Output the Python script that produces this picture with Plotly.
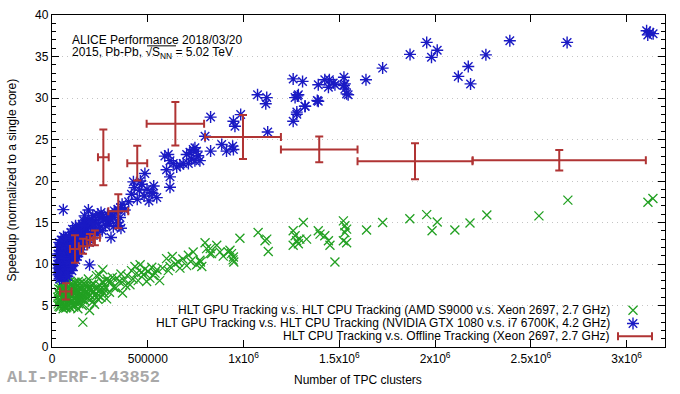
import plotly.graph_objects as go

# ---------------- data ----------------
# HLT CPU Tracking vs Offline Tracking (Xeon 2697) : binned, with x/y errors
offline_x = [72000, 120000, 162000, 198000, 224000, 268000, 346000, 445000, 644000, 997000, 1395000, 1895000, 2648000]
offline_xerr = [30000, 26000, 22000, 17000, 26000, 28000, 52000, 52000, 150000, 198000, 200000, 300000, 452000]
offline_y = [6.7, 11.8, 12.15, 12.9, 13.15, 22.85, 16.35, 22.15, 26.9, 25.3, 23.8, 22.37, 22.5]
offline_yerr = [0.98, 1.65, 0.9, 0.7, 0.9, 3.35, 2.05, 2.1, 2.62, 2.66, 1.55, 2.17, 1.22]

# AMD S9000 vs Xeon 2697 (x in thousands of clusters, speedup)
amd_points = [
    (30, 6.0), (32, 5.2), (35, 7.0), (38, 6.4), (40, 5.6), (42, 4.8), (45, 6.9), (48, 6.0), (50, 5.3),
    (52, 7.4), (55, 6.5), (57, 5.8), (60, 4.9), (62, 7.1), (65, 6.2), (68, 5.5), (70, 6.8), (72, 4.7),
    (75, 7.5), (78, 6.0), (80, 5.2), (83, 6.6), (86, 7.2), (88, 5.7), (90, 4.9), (93, 6.3), (96, 7.6),
    (99, 5.5), (102, 6.9), (105, 6.1), (108, 5.0), (111, 7.3), (114, 6.5), (117, 5.8), (120, 7.8),
    (123, 6.8), (126, 5.3), (129, 6.1), (132, 7.4), (135, 4.6), (138, 5.9), (141, 6.7), (144, 7.6),
    (147, 5.5), (150, 6.4), (155, 7.0), (158, 5.0), (161, 3.0), (163, 6.1), (167, 7.7), (170, 5.6),
    (175, 6.6), (180, 7.3), (185, 5.9), (190, 8.2), (194, 6.9), (196, 4.4), (200, 6.2), (205, 7.5),
    (210, 5.4), (215, 6.6), (222, 5.15), (228, 7.0), (232, 8.6), (239, 5.75), (245, 6.8), (247, 8.7),
    (250, 7.4), (256, 6.0), (262, 7.8), (265, 9.3), (270, 6.5), (278, 7.2), (285, 5.8), (292, 7.9),
    (33, 6.6), (36, 4.9), (41, 7.3), (44, 6.2), (47, 5.1), (51, 6.7), (54, 7.8), (58, 4.6), (61, 6.0),
    (64, 7.6), (67, 5.0), (71, 5.9), (74, 6.5), (77, 4.8), (81, 7.8), (84, 5.6), (87, 6.9), (91, 5.9),
    (94, 7.9), (97, 4.7), (100, 6.4), (104, 7.3), (107, 5.6), (110, 6.7), (113, 4.8), (116, 7.0),
    (119, 6.0), (122, 5.0), (125, 7.6), (128, 6.6), (131, 5.6), (134, 6.9), (137, 7.9), (140, 5.2),
    (143, 6.3), (146, 7.0), (149, 5.8), (152, 6.9), (156, 7.8), (160, 5.7), (165, 6.8), (172, 7.0),
    (178, 6.0), (183, 7.7), (188, 6.5), (198, 7.2), (203, 5.8), (208, 6.9), (218, 7.6), (225, 6.2),
    (235, 7.2), (242, 6.2), (255, 7.0), (268, 7.8), (275, 6.9), (288, 8.2),
    (300, 6.6), (308, 7.9), (315, 8.4), (322, 7.2), (333, 7.1), (340, 8.3), (351, 7.9), (360, 8.8),
    (368, 6.5), (375, 8.0), (385, 7.4), (392, 8.6), (407, 7.5), (415, 9.2), (423, 8.2), (433, 9.7),
    (442, 8.9), (450, 8.0), (460, 9.9), (468, 9.0), (477, 8.7), (486, 9.4), (494, 7.9), (502, 9.1),
    (511, 8.3), (521, 9.6), (529, 8.6), (538, 8.9), (548, 9.3), (562, 8.0), (577, 9.5),
    (598, 10.65), (607, 9.2), (616, 9.7), (628, 10.9), (643, 10.0), (659, 10.25), (668, 9.5),
    (683, 10.6), (703, 9.8), (712, 11.05), (724, 10.3), (737, 11.45), (755, 9.9), (772, 10.45),
    (775, 10.25), (782, 9.7), (799, 12.55), (807, 11.85), (824, 11.25), (826, 11.85), (833, 11.25),
    (860, 12.25), (877, 11.45), (894, 10.95), (920, 11.45), (929, 11.65), (937, 11.25), (945, 10.5),
    (947, 10.85), (949, 10.25), (981, 13.1), (1076, 13.8), (1112, 12.8), (1121, 13.0), (1129, 11.5),
    (1259, 14.0), (1269, 13.4), (1277, 12.8), (1259, 12.25), (1286, 12.45), (1294, 13.0), (1312, 15.0),
    (1329, 13.0), (1390, 14.0), (1399, 13.6), (1424, 13.4), (1443, 12.8), (1451, 12.25), (1477, 10.25),
    (1521, 15.2), (1529, 14.6), (1538, 14.2), (1521, 12.8), (1538, 12.55), (1529, 13.8), (1642, 14.1),
    (1726, 15.0), (1868, 15.45), (1956, 15.95), (2011, 15.05), (1984, 14.0), (2103, 14.1),
    (2182, 14.95), (2270, 15.9), (2542, 15.8), (2693, 17.7), (3111, 17.45), (3137, 17.9),
]

# NVIDIA GTX 1080 vs i7 6700K (x in thousands of clusters, speedup)
nvidia_points = [
    (35, 9.0), (37, 10.4), (39, 11.6), (41, 8.5), (43, 9.7), (45, 12.4), (47, 10.9), (49, 8.3),
    (51, 9.9), (53, 11.3), (55, 12.9), (57, 9.2), (59, 10.5), (61, 8.8), (63, 11.8), (65, 9.6),
    (68, 13.2), (68, 10.9), (70, 12.3), (72, 8.6), (74, 10.1), (76, 11.4), (78, 9.3), (80, 12.6),
    (82, 10.6), (84, 8.9), (86, 11.9), (88, 10.0), (90, 13.0), (92, 11.1), (95, 9.5), (97, 12.3),
    (100, 10.6), (103, 13.5), (105, 11.6), (108, 9.8), (110, 12.8), (113, 11.0), (116, 13.8),
    (120, 12.0), (124, 10.5), (127, 14.1), (130, 12.6), (134, 11.3), (138, 13.4), (142, 14.6),
    (146, 12.2), (150, 13.9), (155, 11.7), (158, 14.8), (162, 13.0), (166, 15.2), (170, 13.6),
    (175, 14.3), (180, 12.8), (185, 15.0), (190, 13.8), (196, 9.9), (200, 14.6), (206, 15.4),
    (213, 15.85), (220, 14.2), (228, 15.0), (235, 13.6), (242, 14.8), (250, 15.6), (256, 16.2),
    (262, 14.0), (270, 15.3), (280, 14.6), (290, 16.0), (298, 14.9), (308, 13.2), (316, 15.8),
    (325, 16.4), (333, 16.2), (342, 15.0), (350, 14.6), (358, 16.8), (366, 17.2), (380, 16.5),
    (38, 8.9), (44, 10.8), (50, 11.7), (56, 9.8), (62, 12.6), (66, 8.4), (73, 11.0), (79, 10.3),
    (85, 12.1), (91, 9.3), (98, 11.5), (106, 12.9), (112, 10.4), (118, 11.9), (125, 13.2),
    (132, 10.9), (140, 12.5), (148, 13.1), (59, 16.55),
    (33, 9.5), (34, 10.8), (36, 12.0), (40, 9.3), (42, 11.0), (46, 8.8), (48, 12.9), (52, 10.3),
    (54, 8.6), (58, 11.6), (60, 13.3), (64, 10.2), (69, 9.2), (71, 11.7), (75, 8.9), (77, 12.8),
    (81, 9.8), (83, 11.3), (87, 13.3), (89, 10.8), (93, 12.6), (96, 10.2), (99, 13.8), (102, 11.2),
    (104, 9.2), (107, 14.2), (109, 11.8), (114, 12.5), (117, 10.8), (121, 13.4), (123, 14.6),
    (128, 11.9), (136, 12.2), (144, 13.6), (152, 12.5), (160, 14.2), (168, 12.4), (178, 13.9),
    (188, 14.5), (195, 12.6), (203, 13.5), (210, 15.0), (225, 13.9), (245, 14.2), (265, 15.7),
    (285, 15.1), (305, 15.3),
    (31, 10.0), (32, 11.2), (34, 8.7), (36, 9.8), (38, 12.6), (39, 8.2), (41, 10.3), (43, 12.1),
    (44, 9.1), (46, 11.5), (48, 9.6), (50, 12.3), (52, 8.9), (53, 10.9), (55, 10.0), (57, 12.2),
    (59, 8.4), (60, 11.2), (62, 9.9), (64, 12.9), (66, 11.4), (67, 10.0), (69, 12.8), (70, 8.9),
    (72, 10.7), (74, 12.7), (76, 9.7), (78, 11.9), (80, 10.1), (81, 8.5), (83, 12.3), (85, 9.4),
    (87, 10.5), (89, 12.0), (91, 10.3), (93, 11.7), (95, 13.1), (97, 10.9), (100, 12.2), (102, 9.7),
    (105, 12.4), (108, 10.9), (111, 13.3), (115, 11.5), (119, 12.6), (122, 11.0), (126, 12.3),
    (131, 13.8), (135, 12.9), (139, 11.8), (143, 13.0), (147, 14.2), (153, 13.4), (157, 12.9),
    (163, 14.6), (172, 14.8), (182, 13.4), (192, 15.2),
    (300, 15.5), (320, 14.5), (345, 16.6), (355, 15.6), (360, 14.3), (170, 15.8), (190, 16.5),
    (215, 14.8), (240, 16.0),
    (400, 17.5), (415, 18.4), (430, 19.2), (445, 17.8), (456, 18.9), (468, 19.6), (481, 18.2),
    (496, 19.0), (506, 17.6), (518, 18.6), (531, 19.4), (547, 18.0), (425, 19.9), (461, 20.0),
    (526, 18.5), (485, 20.9),
    (589, 23.0), (607, 23.2), (616, 22.45), (598, 21.35), (633, 22.1), (651, 21.7), (668, 21.9),
    (685, 22.1), (703, 23.2), (720, 23.45), (729, 22.65), (737, 23.8), (746, 24.0), (755, 23.6),
    (763, 23.05), (772, 22.45), (746, 22.45), (712, 22.1), (616, 20.5), (616, 19.25),
    (828, 27.7), (947, 27.2), (955, 26.6), (985, 28.0), (799, 25.4), (1126, 25.9), (828, 23.6),
    (886, 24.4), (911, 23.6), (943, 24.2), (947, 23.8), (1073, 30.4), (1121, 30.05), (1116, 29.3),
    (1259, 32.3), (1308, 32.0), (1269, 30.05), (1281, 30.25), (1322, 29.0), (1278, 28.05),
    (1259, 27.2), (1390, 31.6), (1385, 29.7),
    (1424, 32.2), (1448, 32.2), (1443, 31.3), (1468, 31.8), (1477, 31.6), (1524, 32.5), (1529, 31.7),
    (1529, 31.1), (1538, 30.5), (1546, 30.4), (1524, 31.5), (1639, 32.2), (1726, 33.6), (1869, 35.25),
    (1956, 36.7), (2011, 35.75), (1981, 34.9), (2121, 32.6), (2173, 33.8), (2185, 31.7), (1286, 30.4),
    (1320, 29.0), (1390, 29.6), (1278, 28.3), (2265, 35.2), (2390, 36.9), (2689, 36.7),
    (3104, 38.1), (3121, 37.9), (3138, 37.75), (3110, 37.6),
]

x_tick_vals = [0, 500000, 1000000, 1500000, 2000000, 2500000, 3000000]
x_tick_text = ["0", "500000", "1x10<sup>6</sup>", "1.5x10<sup>6</sup>", "2x10<sup>6</sup>",
               "2.5x10<sup>6</sup>", "3x10<sup>6</sup>"]
y_tick_vals = [0, 5, 10, 15, 20, 25, 30, 35, 40]
y_minor_vals = list(range(0, 41))

legend_labels = [
    "HLT GPU Tracking v.s. HLT CPU Tracking (AMD S9000 v.s. Xeon 2697, 2.7 GHz)",
    "HLT GPU Tracking v.s. HLT CPU Tracking (NVIDIA GTX 1080 v.s. i7 6700K, 4.2 GHz)",
    "HLT CPU Tracking v.s. Offline Tracking (Xeon 2697, 2.7 GHz)",
]

# ---------------- styling ----------------
W, H = 680, 394
L, R, T, B = 52, 665, 8, 347
GREEN = "#22a022"
BLUE = "#1a1ac4"
RED = "#b03434"
FONT = "Liberation Sans"


def fx(px):
    return (px - L) / (R - L)


def fy(py):
    return (B - py) / (B - T)


amd_x = [p[0] * 1000 for p in amd_points]
amd_y = [p[1] for p in amd_points]
nv_x = [p[0] * 1000 for p in nvidia_points]
nv_y = [p[1] for p in nvidia_points]

fig = go.Figure()

fig.add_trace(go.Scatter(
    x=amd_x, y=amd_y, mode="markers", showlegend=False,
    marker=dict(symbol="x-thin-open", size=9, color=GREEN, line=dict(color=GREEN, width=1.3)),
))
fig.add_trace(go.Scatter(
    x=nv_x, y=nv_y, mode="markers", showlegend=False,
    marker=dict(symbol="asterisk-open", size=10, color=BLUE, line=dict(color=BLUE, width=1.4)),
))
fig.add_trace(go.Scatter(
    x=offline_x, y=offline_y, mode="markers", showlegend=False,
    marker=dict(size=1, color=RED, opacity=0),
    error_x=dict(type="data", array=offline_xerr, color=RED, thickness=2, width=4),
    error_y=dict(type="data", array=offline_yerr, color=RED, thickness=2, width=4),
))

# legend samples on an overlay pixel-space axis
leg_rows = [309.5, 323, 336]
fig.add_trace(go.Scatter(
    x=[633], y=[leg_rows[0]], xaxis="x2", yaxis="y2", mode="markers", showlegend=False,
    marker=dict(symbol="x-thin-open", size=9, color=GREEN, line=dict(color=GREEN, width=1.3)),
))
fig.add_trace(go.Scatter(
    x=[633], y=[leg_rows[1]], xaxis="x2", yaxis="y2", mode="markers", showlegend=False,
    marker=dict(symbol="asterisk-open", size=10, color=BLUE, line=dict(color=BLUE, width=1.4)),
))
fig.add_trace(go.Scatter(
    x=[635], y=[leg_rows[2]], xaxis="x2", yaxis="y2", mode="markers", showlegend=False,
    marker=dict(size=1, color=RED, opacity=0),
    error_x=dict(type="data", array=[17], color=RED, thickness=2, width=4),
))

annotations = []
for lab, row in zip(legend_labels, leg_rows):
    annotations.append(dict(
        text=lab, xref="paper", yref="paper", x=fx(612), y=fy(row),
        xanchor="right", yanchor="middle", showarrow=False,
        font=dict(family=FONT, size=12, color="black"),
    ))

annotations += [
    dict(text="ALICE Performance 2018/03/20", xref="paper", yref="paper",
         x=fx(70), y=fy(34), xanchor="left", yanchor="middle", showarrow=False,
         font=dict(family=FONT, size=12, color="black")),
    dict(text="2015, Pb-Pb, \u221AS<sub>NN</sub> = 5.02 TeV", xref="paper", yref="paper",
         x=fx(70), y=fy(47), xanchor="left", yanchor="middle", showarrow=False,
         font=dict(family=FONT, size=12, color="black")),
    dict(text="Speedup (normalized to a single core)", xref="paper", yref="paper",
         x=fx(12), y=fy(177), xanchor="center", yanchor="middle", textangle=-90,
         showarrow=False, font=dict(family=FONT, size=12, color="black")),
    dict(text="Number of TPC clusters", xref="paper", yref="paper",
         x=fx(358), y=fy(381), xanchor="center", yanchor="middle",
         showarrow=False, font=dict(family=FONT, size=12, color="black")),
    dict(text="<b>ALI-PERF-143852</b>", xref="paper", yref="paper",
         x=fx(5), y=fy(378), xanchor="left", yanchor="middle",
         showarrow=False, font=dict(family="Liberation Mono", size=17, color="#a8a8a8")),
]

shapes = [
    dict(type="line", xref="paper", yref="paper", x0=fx(147), x1=fx(176), y0=fy(39.5), y1=fy(39.5),
         line=dict(color="black", width=1)),
]

axis_common = dict(
    showline=True, linecolor="black", linewidth=1.3, mirror="allticks",
    ticks="inside", ticklen=7, tickwidth=1, tickcolor="black",
    zeroline=False, tickfont=dict(family=FONT, size=12, color="black"),
)

fig.update_layout(
    width=W, height=H,
    margin=dict(l=L, r=W - R, t=T, b=H - B),
    paper_bgcolor="white", plot_bgcolor="white",
    font=dict(family=FONT, size=12, color="black"),
    xaxis=dict(range=[0, 3200000], tickmode="array", tickvals=x_tick_vals, ticktext=x_tick_text,
               showgrid=False, **axis_common),
    yaxis=dict(range=[0, 40], tickmode="array", tickvals=y_tick_vals,
               showgrid=True, gridcolor="#c4c4c4", griddash="1px,4px", gridwidth=1,
               minor=dict(tickmode="array", tickvals=y_minor_vals, ticklen=4, ticks="inside",
                          tickcolor="black", showgrid=False),
               **axis_common),
    yaxis3=dict(overlaying="y", side="right", range=[0, 40], tickmode="array", tickvals=y_minor_vals,
                ticks="inside", ticklen=4, tickcolor="black", showticklabels=False,
                showgrid=False, zeroline=False, showline=False, fixedrange=True),
    xaxis2=dict(overlaying="x", range=[L, R], visible=False, fixedrange=True),
    yaxis2=dict(overlaying="y", range=[B, T], visible=False, fixedrange=True),
    annotations=annotations,
    shapes=shapes,
    showlegend=False,
)

fig.write_html("out.html")
